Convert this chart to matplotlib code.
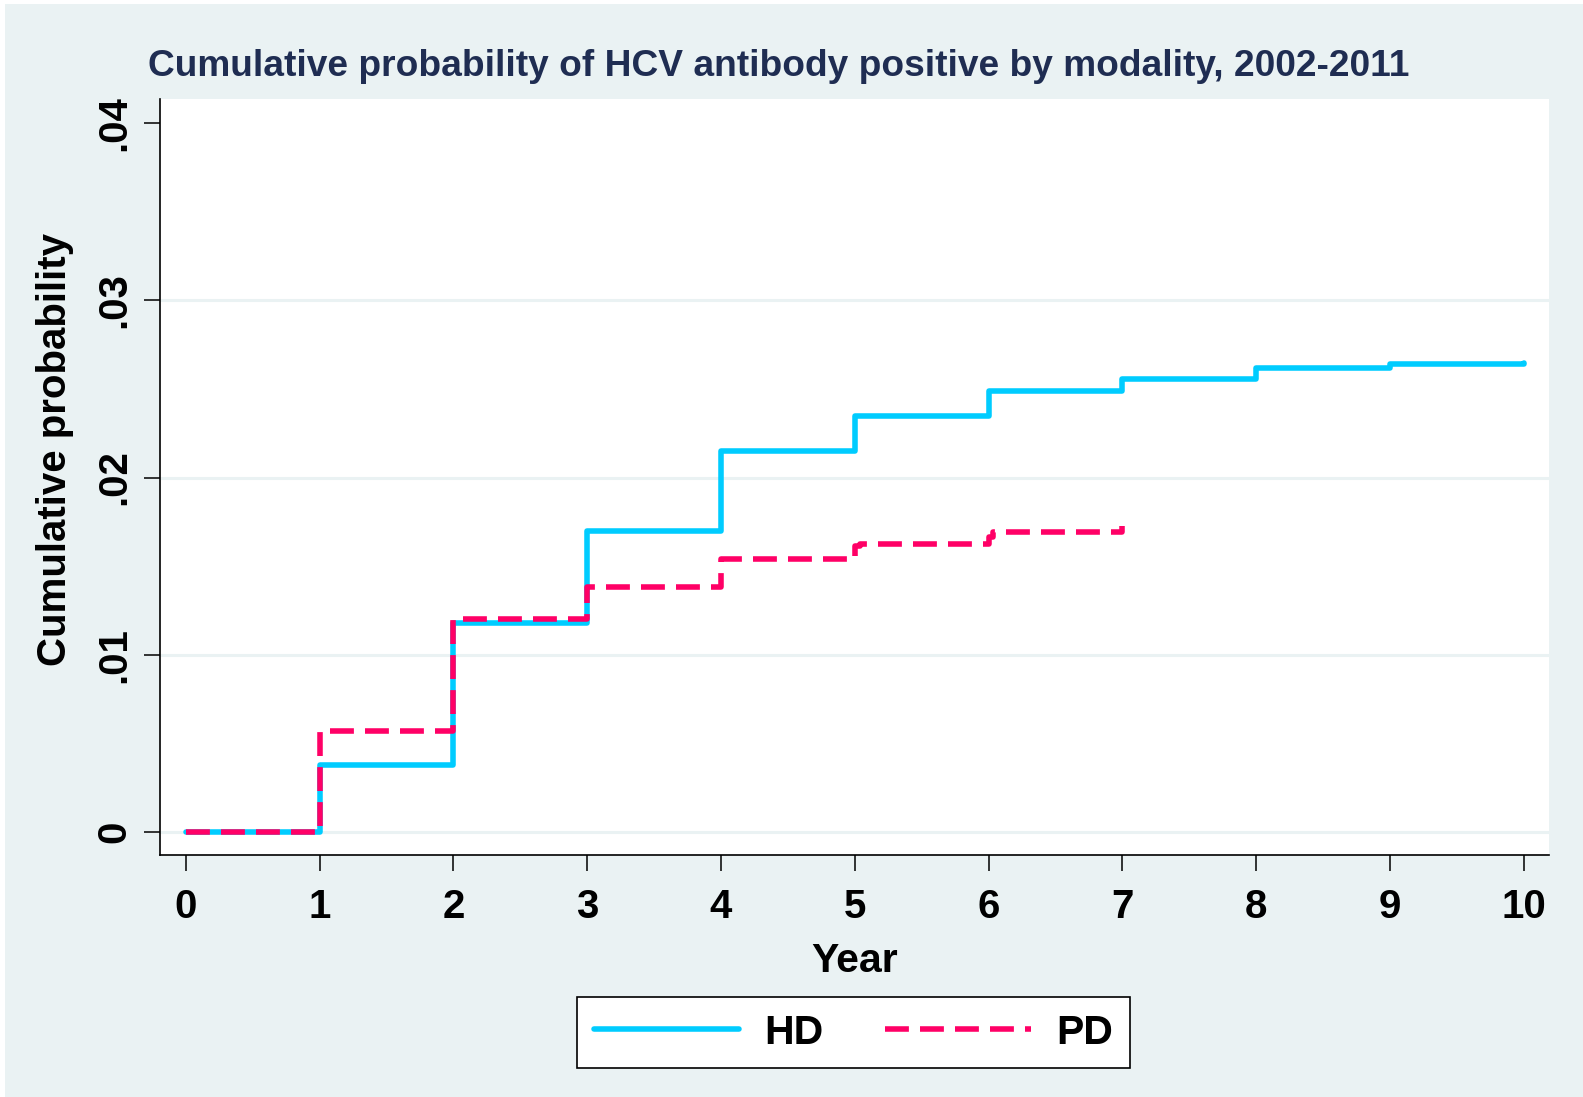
import matplotlib
matplotlib.use("Agg")
import matplotlib.pyplot as plt
from matplotlib.patches import Rectangle

# ---- data ----
hd_years = [0, 1, 2, 3, 4, 5, 6, 7, 8, 9, 10]
hd_prob = [0.0, 0.0038, 0.0118, 0.0170, 0.0215, 0.0235, 0.0249, 0.02556, 0.02618, 0.02639, 0.02648]
pd_years = [0, 1, 2, 3, 4, 5, 5.04, 6, 6.03, 7]
pd_prob = [0.0, 0.0057, 0.0120, 0.0138, 0.01538, 0.01613, 0.01626, 0.01666, 0.01691, 0.01726]
x_ticks = list(range(0, 11))
y_ticks = [0, 0.01, 0.02, 0.03, 0.04]
y_tick_labels = ["0", ".01", ".02", ".03", ".04"]
grid_levels = [0, 0.01, 0.02, 0.03]
title = "Cumulative probability of HCV antibody positive by modality, 2002-2011"

BG = "#EAF2F3"
HD_COLOR = "#00CCFF"
PD_COLOR = "#FF0066"

plt.rcParams['font.family'] = ['Liberation Sans', 'DejaVu Sans']

W, H = 1583, 1097
fig = plt.figure(figsize=(W / 100, H / 100), dpi=100, facecolor="white")
fig.patches.append(Rectangle((5 / W, 0), 1 - 5 / W, 1 - 4 / H, transform=fig.transFigure,
                             facecolor=BG, edgecolor="none", zorder=-10))

left, right, bottom, top = 160, 1549, 855, 99
ax = fig.add_axes([left / W, 1 - bottom / H, (right - left) / W, (bottom - top) / H])
ax.set_facecolor("white")

for g in grid_levels:
    ax.axhline(g, color=BG, lw=2.2, zorder=1)

ax.plot(hd_years, hd_prob, drawstyle="steps-post", color=HD_COLOR, lw=4.0,
        solid_joinstyle="round", solid_capstyle="round", label="HD", zorder=3)
ax.plot(pd_years, pd_prob, drawstyle="steps-post", color=PD_COLOR, lw=4.0,
        dashes=(4.3, 2.0), dash_capstyle="butt", label="PD", zorder=4)

ax.set_xlim(-0.192, 10.187)
ax.set_ylim(-0.0013, 0.04136)

for s in ["top", "right"]:
    ax.spines[s].set_visible(False)
for s in ["left", "bottom"]:
    ax.spines[s].set_linewidth(1.2)
    ax.spines[s].set_color("black")

ax.set_xticks(x_ticks)
ax.set_xticklabels([str(t) for t in x_ticks], fontsize=29, fontweight="bold")
ax.set_yticks(y_ticks)
ax.set_yticklabels(y_tick_labels, fontsize=29, fontweight="bold", rotation=90, va="center")
ax.tick_params(axis="both", direction="out", length=11.5, width=1.1, color="black")
ax.tick_params(axis="x", pad=12)
ax.tick_params(axis="y", pad=8)

ax.set_xlabel("Year", fontsize=29.5, fontweight="bold")
ax.xaxis.set_label_coords(0.5, -0.115)
ax.set_ylabel("Cumulative probability", fontsize=29, fontweight="bold")
ax.yaxis.set_label_coords(-0.062, 0.537)

fig.text(779 / W, 1 - 76 / H, title, ha="center", va="baseline",
         fontsize=26.7, fontweight="bold", color="#1F2D52")

leg = fig.legend(loc="center", bbox_to_anchor=(853.5 / W, 1 - 1032.5 / H), ncol=2,
                 prop={"weight": "bold", "size": 29.5}, frameon=True, fancybox=False,
                 edgecolor="black", handlelength=3.55, handletextpad=0.62, columnspacing=1.5,
                 borderpad=0.4)
leg.get_frame().set_linewidth(1.2)
leg.get_frame().set_facecolor("white")
leg.get_frame().set_alpha(1)

fig.savefig("out.png", dpi=100, facecolor=fig.get_facecolor())
